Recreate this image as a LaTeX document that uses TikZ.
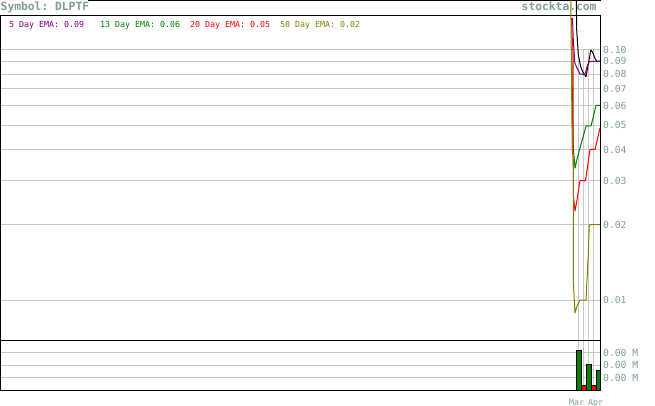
\documentclass[tikz,border=0pt]{standalone}
\usepackage{fontspec}
\setmonofont{DejaVu Sans Mono}
\definecolor{lbl}{RGB}{127,160,144}
\definecolor{gridc}{RGB}{200,200,200}
\definecolor{emapurple}{RGB}{128,0,128}
\definecolor{emagreen}{RGB}{0,128,0}
\definecolor{emared}{RGB}{255,0,0}
\definecolor{emaolive}{RGB}{128,128,0}
\tikzset{
  gridline/.style={draw=gridc, line width=1pt},
  frame/.style={draw=black, line width=1pt},
  series/.style={line width=1pt, line join=round},
  biglbl/.style={inner sep=0pt, anchor=base west, text=lbl, font=\ttfamily\bfseries\fontsize{11.3}{12}\selectfont},
  leglbl/.style={inner sep=0pt, anchor=base west, font=\ttfamily\fontsize{8.3}{9}\selectfont},
  axlbl/.style={inner sep=0pt, anchor=west, text=lbl, font=\ttfamily\fontsize{9.7}{10}\selectfont},
  vbar/.style={draw=black, line width=0.8pt},
}
\begin{document}
\begin{tikzpicture}[x=1pt,y=-1pt]
\useasboundingbox (0,0) rectangle (655,406);
\fill[white] (0,0) rectangle (655,406);
% horizontal price grid
\foreach \yy in {300,224.7,180.7,149.5,125.3,105.5,88.7,74.2,61.4,50}
  \draw[gridline] (1,\yy) -- (600,\yy);
% volume grid
\foreach \yy in {352.5,365,377.5}
  \draw[gridline] (1,\yy) -- (600,\yy);
% vertical grid
\foreach \xx in {578.5,583.5,588.5,593.5}
  \draw[gridline] (\xx,50) -- (\xx,390);
% frames
\draw[frame] (88,0.5) -- (601,0.5);
\draw[frame] (0.5,15.5) rectangle (600.5,340.5);
\draw[frame] (0.5,340.5) rectangle (600.5,390.5);
% volume bars
\filldraw[vbar, fill=emagreen] (576,350) rectangle (581,390.5);
\filldraw[vbar, fill=emared] (581,385) rectangle (586,390.5);
\filldraw[vbar, fill=emagreen] (586,364) rectangle (591,390.5);
\filldraw[vbar, fill=emared] (591,385) rectangle (596,390.5);
\filldraw[vbar, fill=emagreen] (596,370) rectangle (600.5,390.5);
% price
\draw[series, black] (576.3,0) -- (576.7,30) -- (578.3,55) -- (580.7,66.7) -- (582.7,71.7) -- (586,76.8) -- (590.8,50) -- (592.5,52) -- (595,58.3) -- (596.7,61.2) -- (600,61.2);
% 5 day
\draw[series, emapurple] (572.5,18) -- (573.3,40) -- (574.8,63) -- (577,68) -- (580,74) -- (585,74.5) -- (587,67) -- (589,62) -- (590,61.4) -- (600,61.4);
% 13 day
\draw[series, emagreen] (571.8,48) -- (572.5,110) -- (573.3,148) -- (575,168) -- (577.3,158) -- (580,148) -- (583,137) -- (586,126) -- (591,126) -- (596,105.5) -- (600,105.5);
% 20 day
\draw[series, emared] (571.5,18) -- (572,35) -- (573,50) -- (573.3,195) -- (575,211) -- (577,200) -- (579,187) -- (580,180.5) -- (585.5,180.5) -- (590,149.5) -- (595,149.5) -- (600,128);
% 50 day
\draw[series, emaolive] (570.8,0) -- (572.2,150) -- (573.3,157) -- (573.3,282) -- (575,313) -- (577,306) -- (580,300) -- (586,300) -- (587,280) -- (588.3,253) -- (589.3,225) -- (590,224.5) -- (600,224.5);
% titles
\node[biglbl] (sym) at (0.5,10.8) {Symbol: DLPTF};
\node[biglbl] (site) at (521.5,10.8) {stockta.com};
% legend
\node[leglbl, text=emapurple] (l5) at (9,27.6) {5 Day EMA: 0.09};
\node[leglbl, text=emagreen] (l13) at (100,27.6) {13 Day EMA: 0.06};
\node[leglbl, text=emared] (l20) at (190,27.6) {20 Day EMA: 0.05};
\node[leglbl, text=emaolive] (l50) at (280,27.6) {50 Day EMA: 0.02};
% price axis labels
\node[axlbl] (p10) at (603,50) {0.10};
\node[axlbl] (p09) at (603,61.4) {0.09};
\node[axlbl] (p08) at (603,74.2) {0.08};
\node[axlbl] (p07) at (603,88.7) {0.07};
\node[axlbl] (p06) at (603,105.5) {0.06};
\node[axlbl] (p05) at (603,125.3) {0.05};
\node[axlbl] (p04) at (603,149.5) {0.04};
\node[axlbl] (p03) at (603,180.7) {0.03};
\node[axlbl] (p02) at (603,224.7) {0.02};
\node[axlbl] (p01) at (603,300) {0.01};
% volume labels
\node[axlbl] (v1) at (603,352.5) {0.00 M};
\node[axlbl] (v2) at (603,365) {0.00 M};
\node[axlbl] (v3) at (603,377.5) {0.00 M};
% date labels
\node[leglbl, text=lbl] (d1) at (569,405) {Mar};
\node[leglbl, text=lbl] (d2) at (588,405) {Apr};
\end{tikzpicture}
\end{document}
